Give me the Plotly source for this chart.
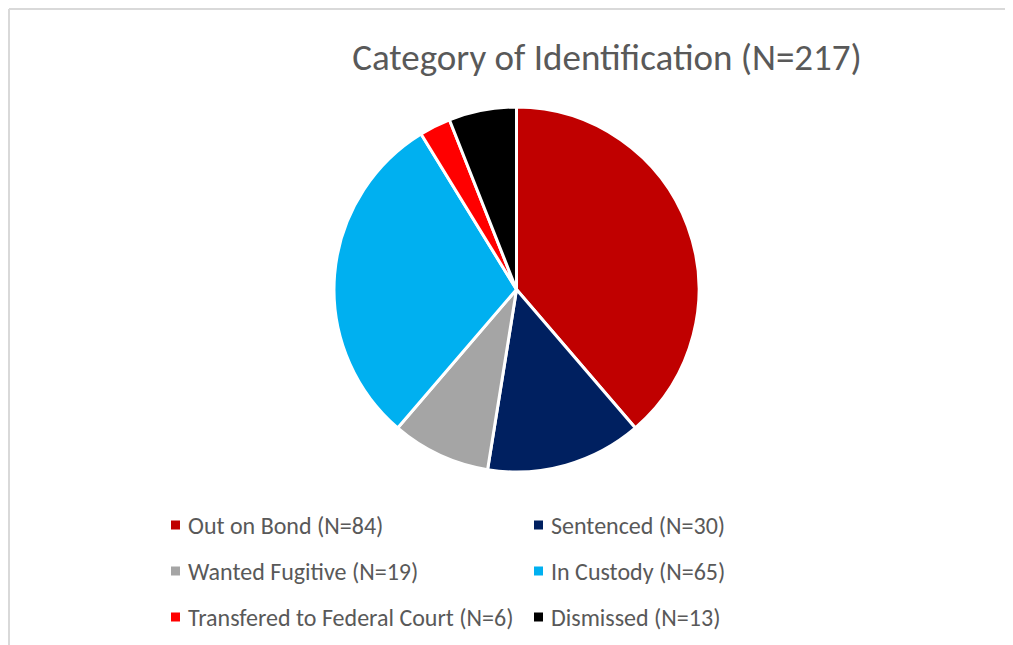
import plotly.graph_objects as go

# === DATA ===
categories = ["Out on Bond", "Sentenced", "Wanted Fugitive", "In Custody",
              "Transfered to Federal Court", "Dismissed"]
counts = [84, 30, 19, 65, 6, 13]
colors = ["#C00000", "#002060", "#A5A5A5", "#00B0F0", "#FF0000", "#000000"]
title_text = "Category of Identification (N=217)"

# === CANVAS ===
# the page body has an 8px margin, so the figure is 8px smaller on each side
# and everything below is given in page pixels, then converted to paper coords
OFF = 8
W, H = 1013 - OFF, 645 - OFF
FONT = "Calibri, Carlito, Lato, sans-serif"
GREY = "#595959"


def px(x):
    return (x - OFF) / W


def py(y):
    return 1 - (y - OFF) / H


# pie centre / radius (page pixels)
cx, cy, r = 516.5, 289.5, 182.5

fig = go.Figure()

fig.add_trace(go.Pie(
    labels=categories,
    values=counts,
    marker=dict(colors=colors, line=dict(color="white", width=3)),
    sort=False,
    direction="clockwise",
    rotation=0,
    textinfo="none",
    hoverinfo="label+value+percent",
    showlegend=False,
    domain=dict(x=[px(cx - r), px(cx + r)], y=[py(cy + r), py(cy - r)]),
))

# --- legend (2 columns, row-major like the original) ---
col_x = [171, 534]
row_y = [525, 571, 617]
shapes = []
annotations = []
for i, (name, n, c) in enumerate(zip(categories, counts, colors)):
    x0 = col_x[i % 2]
    y0 = row_y[i // 2]
    shapes.append(dict(type="rect", xref="paper", yref="paper",
                       x0=px(x0), x1=px(x0 + 9), y0=py(y0 + 4.5), y1=py(y0 - 4.5),
                       fillcolor=c, line=dict(width=0)))
    annotations.append(dict(xref="paper", yref="paper", x=px(x0 + 15), y=py(y0),
                            xanchor="left", yanchor="middle", showarrow=False,
                            text=f"{name} (N={n})",
                            font=dict(family=FONT, size=24, color=GREY)))

# --- chart frame (light grey border top / left) ---
shapes.append(dict(type="line", xref="paper", yref="paper",
                   x0=px(9), x1=px(9), y0=0, y1=py(9),
                   line=dict(color="#D9D9D9", width=2)))
shapes.append(dict(type="line", xref="paper", yref="paper",
                   x0=px(9), x1=1, y0=py(9), y1=py(9),
                   line=dict(color="#D9D9D9", width=2)))

fig.update_layout(
    width=W, height=H,
    margin=dict(l=0, r=0, t=0, b=0),
    title=dict(text=title_text, x=px(607), xanchor="center",
               y=py(57), yanchor="middle", yref="paper",
               font=dict(family=FONT, size=37, color=GREY)),
    shapes=shapes,
    annotations=annotations,
    paper_bgcolor="white",
    plot_bgcolor="white",
)

fig.write_html("out.html")
